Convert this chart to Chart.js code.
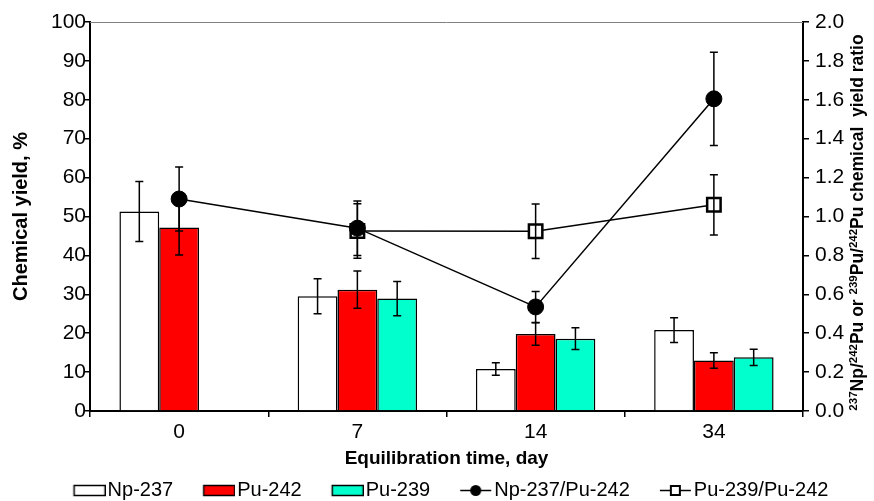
<!DOCTYPE html>
<html>
<head>
<meta charset="utf-8">
<script src="https://cdn.jsdelivr.net/npm/chart.js@4.4.0/dist/chart.umd.min.js"></script>
<style>
body { margin: 0; background: #fff; }
canvas { display: block; }
</style>
</head>
<body>
<canvas id="chart" width="874" height="501"></canvas>
<script>
const days = ['0', '7', '14', '34'];

// chemical yields, % (left axis)
const np237 = [51.3, 29.5, 10.8, 20.8];
const np237Err = [7.7, 4.5, 1.6, 3.2];
const pu242 = [47.2, 31.2, 19.8, 13.0];
const pu242Err = [7.1, 4.8, 2.9, 2.0];
const pu239 = [null, 28.9, 18.6, 13.8];
const pu239Err = [null, 4.4, 2.8, 2.1];

// yield ratios (right axis)
const npPuRatio = [1.09, 0.94, 0.535, 1.605];
const npPuRatioErr = [0.165, 0.14, 0.08, 0.24];
const puPuRatio = [null, 0.925, 0.924, 1.06];
const puPuRatioErr = [null, 0.14, 0.14, 0.155];

const FONT = "'Liberation Sans', Arial, sans-serif";
const PLOT_LEFT = 90;
const PLOT_RIGHT = 803;
const PLOT_BOTTOM = 411;
const BOTTOM_SHIFT = 9;

// legend swatches, content sits in the right part of the image so it hugs the text
function swatch(draw) {
    const c = document.createElement('canvas');
    c.width = 68;
    c.height = 16;
    draw(c.getContext('2d'));
    return c;
}

function barSwatch(color) {
    return swatch(ctx => {
        ctx.fillStyle = color;
        ctx.fillRect(36.5, 3.5, 31, 10);
        ctx.strokeStyle = '#000';
        ctx.lineWidth = 1.5;
        ctx.strokeRect(36.5, 3.5, 31, 10);
    });
}

function lineSwatch(square) {
    return swatch(ctx => {
        ctx.strokeStyle = '#000';
        ctx.lineWidth = 1.5;
        ctx.beginPath();
        ctx.moveTo(36, 8.5);
        ctx.lineTo(67, 8.5);
        ctx.stroke();
        if (square) {
            ctx.fillStyle = '#fff';
            ctx.fillRect(47, 4, 9, 9);
            ctx.lineWidth = 2;
            ctx.strokeRect(47, 4, 9, 9);
        } else {
            ctx.fillStyle = '#000';
            ctx.beginPath();
            ctx.arc(51.5, 8.5, 5.5, 0, Math.PI * 2);
            ctx.fill();
        }
    });
}

const legendIcons = [
    barSwatch('#ffffff'),
    barSwatch('#ff0000'),
    barSwatch('#00ffcc'),
    lineSwatch(false),
    lineSwatch(true)
];

const errorBars = {
    id: 'errorBars',
    afterDatasetsDraw(chart) {
        const ctx = chart.ctx;
        ctx.save();
        ctx.strokeStyle = '#000';
        ctx.lineWidth = 1.5;
        chart.data.datasets.forEach((ds, i) => {
            const meta = chart.getDatasetMeta(i);
            const scale = chart.scales[meta.yAxisID];
            meta.data.forEach((el, j) => {
                const v = ds.data[j];
                const e = ds.errors[j];
                if (v == null || e == null) return;
                const x = el.x;
                const top = scale.getPixelForValue(v + e);
                const bot = scale.getPixelForValue(v - e);
                ctx.beginPath();
                ctx.moveTo(x, top);
                ctx.lineTo(x, bot);
                ctx.moveTo(x - 4, top);
                ctx.lineTo(x + 4, top);
                ctx.moveTo(x - 4, bot);
                ctx.lineTo(x + 4, bot);
                ctx.stroke();
            });
        });
        ctx.restore();
    }
};

// top frame line and the right axis title (needs superscripts)
const frame = {
    id: 'frame',
    afterDraw(chart) {
        const ctx = chart.ctx;
        const area = chart.chartArea;
        ctx.save();
        ctx.strokeStyle = '#808080';
        ctx.lineWidth = 1;
        ctx.beginPath();
        ctx.moveTo(area.left, area.top + 0.5);
        ctx.lineTo(area.right, area.top + 0.5);
        ctx.stroke();

        const parts = [
            ['237', true], ['Np/', false], ['242', true], ['Pu or ', false],
            ['239', true], ['Pu/', false], ['242', true], ['Pu chemical  yield ratio', false]
        ];
        const big = 'bold 17.5px ' + FONT;
        const small = 'bold 11.5px ' + FONT;
        let total = 0;
        parts.forEach(p => {
            ctx.font = p[1] ? small : big;
            total += ctx.measureText(p[0]).width;
        });
        ctx.translate(857, (area.top + area.bottom) / 2 + 6);
        ctx.rotate(-Math.PI / 2);
        ctx.fillStyle = '#000';
        ctx.textBaseline = 'alphabetic';
        let x = -total / 2;
        parts.forEach(p => {
            ctx.font = p[1] ? small : big;
            ctx.fillText(p[0], x, p[1] ? 0 : 6);
            x += ctx.measureText(p[0]).width;
        });
        ctx.restore();
    }
};

new Chart(document.getElementById('chart'), {
    data: {
        labels: days,
        datasets: [
            {
                type: 'bar', label: 'Np-237', data: np237, errors: np237Err,
                backgroundColor: '#ffffff', borderColor: '#000', borderWidth: 1.5,
                yAxisID: 'y', order: 2, barPercentage: 1, categoryPercentage: 0.67
            },
            {
                type: 'bar', label: 'Pu-242', data: pu242, errors: pu242Err,
                backgroundColor: '#ff0000', borderColor: '#000', borderWidth: 1.5,
                yAxisID: 'y', order: 2, barPercentage: 1, categoryPercentage: 0.67
            },
            {
                type: 'bar', label: 'Pu-239', data: pu239, errors: pu239Err,
                backgroundColor: '#00ffcc', borderColor: '#000', borderWidth: 1.5,
                yAxisID: 'y', order: 2, barPercentage: 1, categoryPercentage: 0.67
            },
            {
                type: 'line', label: 'Np-237/Pu-242', data: npPuRatio, errors: npPuRatioErr,
                borderColor: '#000', borderWidth: 1.5, tension: 0,
                pointStyle: 'circle', pointRadius: 8, pointBackgroundColor: '#000',
                pointBorderColor: '#000', pointBorderWidth: 1,
                yAxisID: 'y1', order: 1
            },
            {
                type: 'line', label: 'Pu-239/Pu-242', data: puPuRatio, errors: puPuRatioErr,
                borderColor: '#000', borderWidth: 1.5, tension: 0,
                pointStyle: 'rect', pointRadius: 9.5, pointBackgroundColor: '#fff',
                pointBorderColor: '#000', pointBorderWidth: 2.5,
                yAxisID: 'y1', order: 1
            }
        ]
    },
    options: {
        responsive: false,
        animation: false,
        events: [],
        layout: { padding: { top: 22, left: 0, right: 0, bottom: -BOTTOM_SHIFT } },
        scales: {
            x: {
                type: 'category',
                offset: true,
                grid: { offset: true, drawOnChartArea: false, tickLength: 6, color: '#000', lineWidth: 1.5 },
                border: { color: '#000', width: 2 },
                ticks: { color: '#000', font: { family: FONT, size: 21 }, padding: 3 },
                title: {
                    display: true, text: 'Equilibration time, day', color: '#000',
                    font: { family: FONT, size: 19, weight: 'bold' }, padding: { top: 0, bottom: 8 }
                },
                afterFit(scale) {
                    const legendH = scale.chart.legend ? scale.chart.legend.height || 0 : 0;
                    scale.height = 501 + BOTTOM_SHIFT - PLOT_BOTTOM - legendH;
                }
            },
            y: {
                position: 'left',
                min: 0,
                max: 100,
                grid: { drawOnChartArea: false, tickLength: 6, color: '#000', lineWidth: 1.5 },
                border: { color: '#000', width: 2 },
                ticks: { stepSize: 10, color: '#000', font: { family: FONT, size: 21 }, padding: -2 },
                title: {
                    display: true, text: 'Chemical yield, %', color: '#000',
                    font: { family: FONT, size: 20, weight: 'bold' }, padding: { top: 9 }
                },
                afterFit(scale) {
                    scale.width = PLOT_LEFT;
                }
            },
            y1: {
                position: 'right',
                min: 0,
                max: 2,
                grid: { drawOnChartArea: false, tickLength: 6, color: '#000', lineWidth: 1.5 },
                border: { color: '#000', width: 2 },
                ticks: {
                    stepSize: 0.2, color: '#000', font: { family: FONT, size: 21 }, padding: 6,
                    callback: v => Number(v).toFixed(1)
                },
                afterFit(scale) {
                    scale.width = 874 - PLOT_RIGHT;
                }
            }
        },
        plugins: {
            tooltip: { enabled: false },
            legend: {
                position: 'bottom',
                labels: {
                    usePointStyle: true,
                    pointStyleWidth: 52,
                    boxHeight: 16,
                    padding: 2,
                    color: '#000',
                    font: { family: FONT, size: 20 },
                    generateLabels(chart) {
                        return chart.data.datasets.map((ds, i) => ({
                            text: ds.label,
                            datasetIndex: i,
                            pointStyle: legendIcons[i],
                            fillStyle: 'transparent',
                            strokeStyle: 'transparent',
                            lineWidth: 0,
                            fontColor: '#000',
                            hidden: false
                        }));
                    }
                }
            }
        }
    },
    plugins: [errorBars, frame]
});
</script>
</body>
</html>
